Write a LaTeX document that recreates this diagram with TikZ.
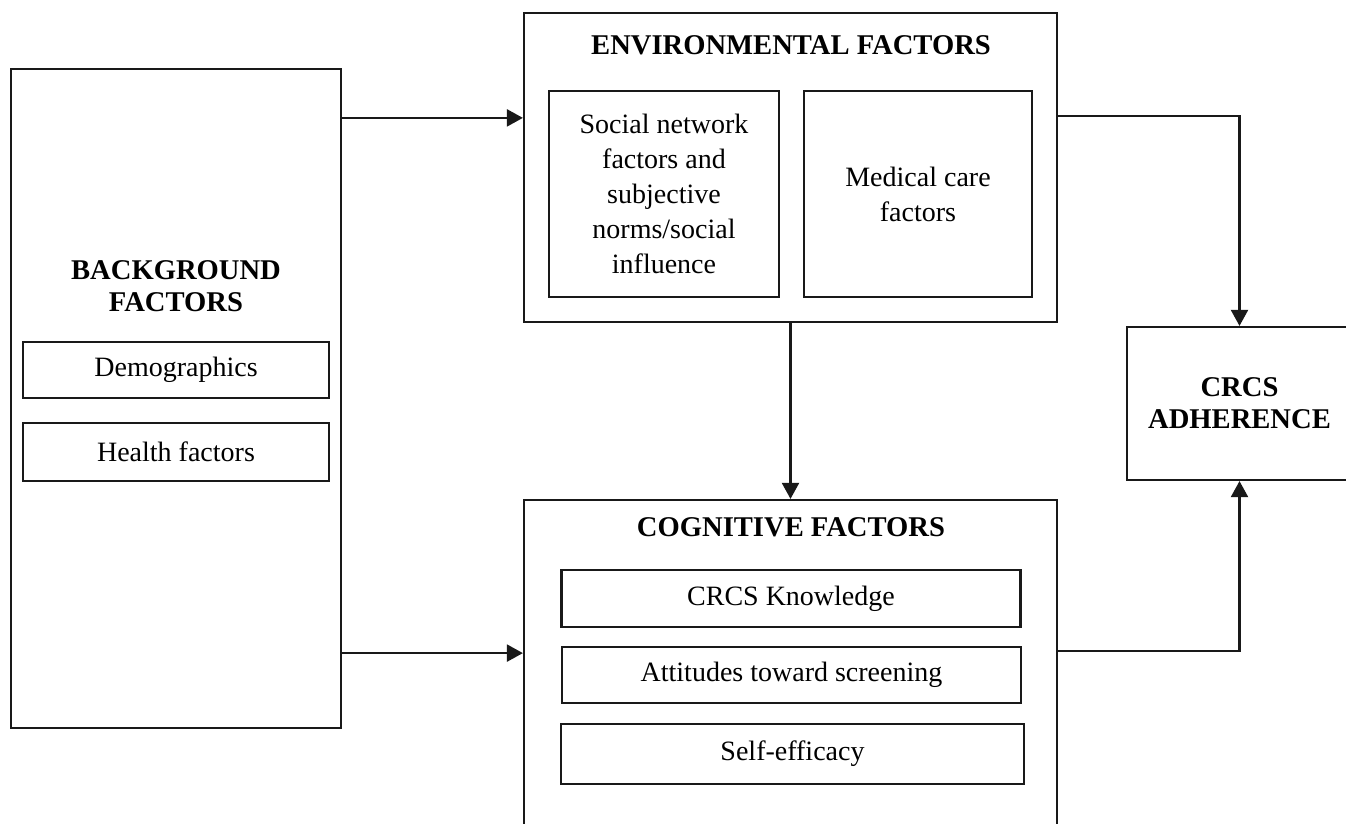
\documentclass[tikz,border=0pt]{standalone}
\usepackage{fontspec}
\setmainfont{Liberation Serif}
\usetikzlibrary{arrows.meta}

\begin{document}
\begin{tikzpicture}[x=0.5pt, y=-0.5pt,
    box/.style={draw=black!90, line width=1.1pt, inner sep=0pt, align=center,
        font=\fontsize{14}{17.5}\selectfont},
    title/.style={align=center, font=\fontsize{14.3}{16}\selectfont\bfseries},
    arr/.style={draw=black!90, line width=1.1pt, -{Triangle[length=8pt,width=8.5pt]}}]
    \useasboundingbox (0,0) rectangle (1346,824);
    % 背景要因
    \node[box, minimum width=165pt, minimum height=329.5pt] (bg) at (176,398.5) {};
    \node[title] (bgtitle) at (176,286) {BACKGROUND\\FACTORS};
    \node[box, minimum width=153pt, minimum height=28pt] (demo) at (176,370) {Demographics};
    \node[box, minimum width=153pt, minimum height=29pt] (health) at (176,452) {Health factors};
    % 環境要因
    \node[box, minimum width=266.5pt, minimum height=154.5pt] (env) at (790.5,167.5) {};
    \node[title] (envtitle) at (791,45) {ENVIRONMENTAL FACTORS};
    \node[box, minimum width=115pt, minimum height=103pt] (social) at (664,194)
        {Social network\\factors and\\subjective\\norms/social\\influence};
    \node[box, minimum width=114pt, minimum height=103pt] (medical) at (918,194)
        {Medical care\\factors};
    % 認知要因
    \node[box, minimum width=266.5pt, minimum height=165pt] (cog) at (790.5,665) {};
    \node[title] (cogtitle) at (791,527) {COGNITIVE FACTORS};
    \node[box, minimum width=229.5pt, minimum height=28.5pt] (know) at (791,598.5) {CRCS Knowledge};
    \node[box, minimum width=229.5pt, minimum height=28pt] (attit) at (791.5,675) {Attitudes toward screening};
    \node[box, minimum width=231.5pt, minimum height=30pt] (selfeff) at (792.5,754) {Self-efficacy};
    % 受診行動
    \node[box, title, minimum width=112.5pt, minimum height=76.5pt] (adh) at (1239.5,403.5) {CRCS\\ADHERENCE};
    % 矢印
    \coordinate (bgout1) at ([yshift=-25pt]bg.north east);
    \coordinate (bgout2) at ([yshift=38pt]bg.south east);
    \draw[arr] (bgout1) -- (bgout1 -| env.west);
    \draw[arr] (bgout2) -- (bgout2 -| cog.west);
    \draw[arr] (env.south) -- (cog.north);
    \draw[arr] ([yshift=-52pt]env.north east) -| (adh.north);
    \draw[arr] ([yshift=-76pt]cog.north east) -| (adh.south);
\end{tikzpicture}
\end{document}
